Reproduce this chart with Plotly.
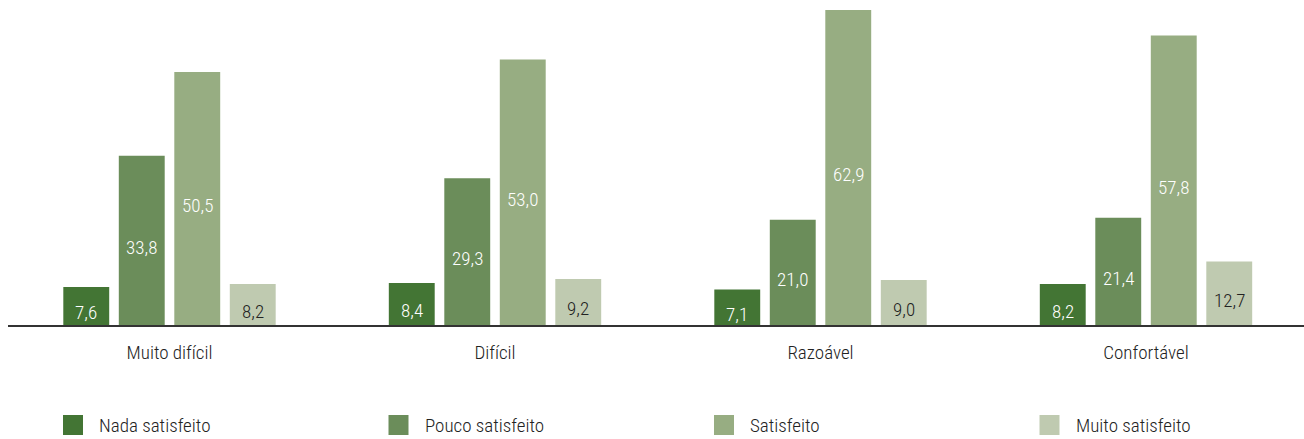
import plotly.graph_objects as go

# Survey results: satisfaction level by perceived financial situation
categories = ["Muito difícil", "Difícil", "Razoável", "Confortável"]
series_names = ["Nada satisfeito", "Pouco satisfeito", "Satisfeito", "Muito satisfeito"]
nada = [7.6, 8.4, 7.1, 8.2]
pouco = [33.8, 29.3, 21.0, 21.4]
satisfeito = [50.5, 53.0, 62.9, 57.8]
muito = [8.2, 9.2, 9.0, 12.7]

series_values = [nada, pouco, satisfeito, muito]
colors = ["#437534", "#6b8d5a", "#97ad82", "#bfcab0"]
text_colors = ["#ffffff", "#ffffff", "#ffffff", "#222222"]

FONT = "Roboto Condensed, DejaVu Sans Condensed, sans-serif"
FONT_SIZE = 19
FONT_WEIGHT = 350
TEXT_COLOR = "#222222"

W, H = 1304, 439
L, R, T, B = 8, 0, 0, 114
plot_w = W - L - R
plot_h = H - T - B

# x scale: px per category and center of first group
cat_px = 325.5
first_center = 169.5 - L
x_min = -first_center / cat_px
x_max = (plot_w - first_center) / cat_px

BARGAP = 0.318
BARGROUPGAP = 0.173
slot_px = cat_px * (1 - BARGAP) / len(series_names)
px_per_unit = 5.008


def fmt(v):
    return f"{v:.1f}".replace(".", ",")


fig = go.Figure()
for i, (name, vals, col, tcol) in enumerate(zip(series_names, series_values, colors, text_colors)):
    fig.add_trace(go.Bar(
        x=categories,
        y=vals,
        name=name,
        marker=dict(color=col, line=dict(width=0)),
        showlegend=False,
        hovertemplate="%{x}<br>" + name + ": %{y:.1f}<extra></extra>",
    ))
    # value label inside each bar, a little below its vertical centre
    for cat, v in zip(categories, vals):
        fig.add_annotation(
            x=cat, y=v / 2, xref="x", yref="y",
            xshift=(i - (len(series_names) - 1) / 2) * slot_px,
            yshift=-7,
            text=fmt(v), showarrow=False,
            font=dict(family=FONT, size=FONT_SIZE, color=tcol, weight=FONT_WEIGHT),
        )

# Legend: squares and labels aligned with each group's first bar
leg_y_px = 425
leg_y = (plot_h - (leg_y_px - T)) / plot_h
sq = 20
for i, (name, col) in enumerate(zip(series_names, colors)):
    x0_px = 63 + i * cat_px
    fig.add_shape(type="rect", xref="paper", yref="paper",
                  x0=(x0_px - L) / plot_w, x1=(x0_px + sq - L) / plot_w,
                  y0=leg_y - (sq / 2) / plot_h, y1=leg_y + (sq / 2) / plot_h,
                  fillcolor=col, line=dict(width=0))
    fig.add_annotation(xref="paper", yref="paper",
                       x=(x0_px + 34 - L) / plot_w, y=leg_y,
                       xanchor="left", yanchor="middle",
                       text=name, showarrow=False,
                       font=dict(family=FONT, size=FONT_SIZE, color=TEXT_COLOR, weight=FONT_WEIGHT))

fig.update_layout(
    width=W, height=H,
    margin=dict(l=L, r=R, t=T, b=B, pad=0),
    barmode="group",
    bargap=BARGAP,
    bargroupgap=BARGROUPGAP,
    plot_bgcolor="white",
    paper_bgcolor="white",
    font=dict(family=FONT, color=TEXT_COLOR, weight=FONT_WEIGHT),
)
fig.update_xaxes(
    range=[x_min, x_max],
    showgrid=False,
    showline=True, linecolor="#333333", linewidth=2,
    ticks="outside", ticklen=9, tickcolor="rgba(0,0,0,0)",
    tickfont=dict(family=FONT, size=FONT_SIZE, color=TEXT_COLOR, weight=FONT_WEIGHT),
    zeroline=False,
)
fig.update_yaxes(
    range=[0, plot_h / px_per_unit],
    visible=False,
    showgrid=False,
    zeroline=False,
)

fig.write_html("out.html")
